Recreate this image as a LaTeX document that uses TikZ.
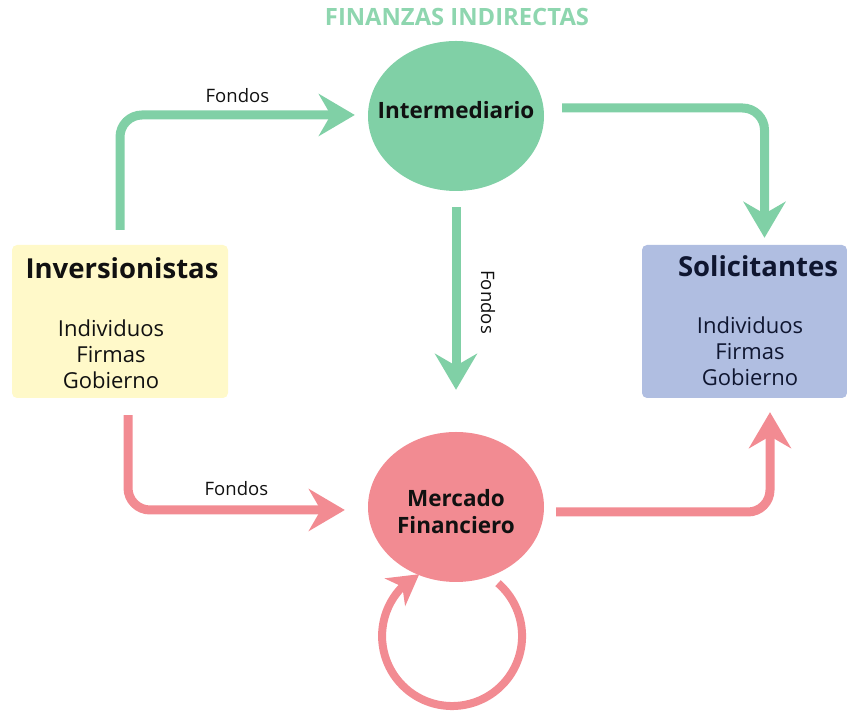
\documentclass[tikz,border=0pt]{standalone}
\usepackage{fontspec}
\setmainfont{Open Sans}
\usetikzlibrary{arrows.meta,bending,shapes.geometric}
\definecolor{verde}{HTML}{80D0A6}
\definecolor{verdetitulo}{HTML}{8ED6AF}
\definecolor{rosa}{HTML}{F28B92}
\definecolor{amarillo}{HTML}{FFF9C9}
\definecolor{azul}{HTML}{B0BEE1}
\definecolor{tinta}{HTML}{111111}
\definecolor{marino}{HTML}{0F1630}

\begin{document}
\begin{tikzpicture}[x=1pt, y=1pt,
    flujoverde/.style={draw=verde, line width=9pt, rounded corners=22pt,
        -{Stealth[length=36pt, width=42pt, inset=12pt]}},
    flujorosa/.style={draw=rosa, line width=9pt, rounded corners=22pt,
        -{Stealth[length=36pt, width=42pt, inset=12pt]}},
    lazo/.style={draw=rosa, line width=8pt,
        -{Stealth[length=30pt, width=34pt, inset=9pt]}},
    circulo/.style={ellipse, draw=none, minimum width=176pt, minimum height=150pt, inner sep=0pt},
    textocirculo/.style={font=\bfseries\fontsize{22.5}{26.5}\selectfont, text=tinta, align=center},
    caja/.style={rectangle, rounded corners=5pt, draw=none, minimum height=153pt},
    titulocaja/.style={font=\bfseries\fontsize{27.5}{30}\selectfont},
    listacaja/.style={font=\fontsize{22}{26}\selectfont, align=center},
    etiqueta/.style={font=\fontsize{18.5}{20}\selectfont, text=tinta}]
    \useasboundingbox (0,0) rectangle (847,711);

    \node[font=\bfseries\fontsize{23.8}{26}\selectfont, text=verdetitulo] (titulo) at (457,694) {FINANZAS INDIRECTAS};

    % circulos
    \node[circulo, fill=verde] (inter) at (456,595) {};
    \node[textocirculo] (intertxt) at ([yshift=6pt]inter) {Intermediario};
    \node[circulo, fill=rosa] (mercado) at (456,204) {};
    \node[textocirculo] (mercadotxt) at ([yshift=-4.5pt]mercado) {Mercado\\Financiero};

    % cajas
    \node[caja, fill=amarillo, minimum width=216pt] (inv) at (120,389.5) {};
    \node[caja, fill=azul, minimum width=205pt] (sol) at (744.5,389.5) {};
    \node[titulocaja, text=tinta] (invtit) at (122,443) {Inversionistas};
    \node[listacaja, text=tinta] (invlista) at (111,357) {Individuos\\Firmas\\Gobierno};
    \node[titulocaja, text=marino] (soltit) at (758,445) {Solicitantes};
    \node[listacaja, text=marino] (sollista) at (750,360) {Individuos\\Firmas\\Gobierno};

    % flujos
    \draw[flujoverde] ([yshift=15pt]inv.north) |- ([xshift=-13pt, yshift=1pt]inter.west)
        node[etiqueta, pos=0.75, yshift=19pt] {Fondos};
    \draw[flujoverde] ([xshift=18pt, yshift=8pt]inter.east) -| ([xshift=20pt, yshift=7pt]sol.north);
    \draw[flujoverde] ([yshift=-16pt]inter.south) -- ([yshift=42pt]mercado.north)
        node[etiqueta, pos=0.52, xshift=32pt, rotate=-90] {Fondos};
    \draw[flujorosa] ([xshift=8pt, yshift=-17pt]inv.south) |- ([xshift=-23pt, yshift=-3pt]mercado.west)
        node[etiqueta, pos=0.75, yshift=21pt] {Fondos};
    \draw[flujorosa] ([xshift=12pt, yshift=-5pt]mercado.east) -| ([xshift=25.5pt, yshift=-14pt]sol.south);
    \draw[lazo] ([xshift=42pt, yshift=-1pt]mercado.south) arc[start angle=49, end angle=-242, radius=70pt];
\end{tikzpicture}
\end{document}
